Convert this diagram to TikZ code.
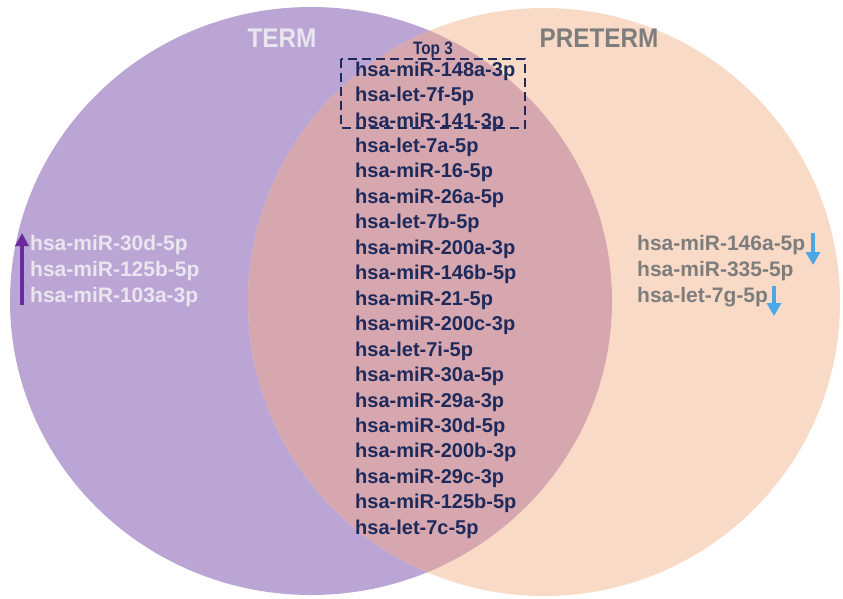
\documentclass[tikz,border=0pt]{standalone}
\usepackage{fontspec}
\setmainfont{Liberation Sans}
\usetikzlibrary{arrows.meta}
\definecolor{termfill}{HTML}{BBA5D4}
\definecolor{pretermfill}{HTML}{F9DAC6}
\definecolor{lensfill}{HTML}{D6A7AF}
\definecolor{navy}{HTML}{1E2A5C}
\definecolor{lightgrey}{HTML}{EAE6EF}
\definecolor{midgrey}{HTML}{7D7D7D}
\definecolor{arrowpurple}{HTML}{6A2A9C}
\definecolor{arrowblue}{HTML}{4AA8E6}
\tikzset{
  title/.style={inner sep=0pt, font=\fontsize{27}{27}\selectfont\bfseries},
  shared/.style={anchor=west, inner sep=0pt, text=navy, font=\fontsize{20}{20}\selectfont\bfseries},
  termtxt/.style={anchor=west, inner sep=0pt, text=lightgrey, font=\fontsize{21}{21}\selectfont\bfseries},
  pretermtxt/.style={anchor=west, inner sep=0pt, text=midgrey, font=\fontsize{21}{21}\selectfont\bfseries},
  topbox/.style={draw=navy, line width=1.8pt, dash pattern=on 9pt off 5pt},
  uparrow/.style={draw=arrowpurple, line width=3.5pt, -{Triangle[width=13pt,length=13pt]}},
  downarrow/.style={draw=arrowblue, line width=4pt, -{Triangle[width=14pt,length=13pt]}}
}
\begin{document}
\begin{tikzpicture}[x=1pt,y=-1pt]
\useasboundingbox (0,0) rectangle (843,598);
% circles
\fill[termfill] (311,301) ellipse [x radius=301pt, y radius=294pt];
\fill[pretermfill] (544,302) ellipse [x radius=296pt, y radius=294pt];
\begin{scope}
  \clip (311,301) ellipse [x radius=301pt, y radius=294pt];
  \fill[lensfill] (544,302) ellipse [x radius=296pt, y radius=294pt];
\end{scope}
% titles
\node[title, text=lightgrey] (term) at (282,38) {\scalebox{0.9}[1]{TERM}};
\node[title, text=midgrey] (preterm) at (599,38) {\scalebox{0.9}[1]{PRETERM}};
% top 3 box
\node[inner sep=0pt, text=navy, font=\fontsize{18}{18}\selectfont\bfseries] (top3) at (433,50) {\scalebox{0.85}[1]{Top 3}};
\draw[topbox] (341,59) rectangle (525,128);
% shared list
\foreach \i/\t in {1/hsa-miR-148a-3p, 2/hsa-let-7f-5p, 3/hsa-miR-141-3p, 4/hsa-let-7a-5p,
  5/hsa-miR-16-5p, 6/hsa-miR-26a-5p, 7/hsa-let-7b-5p, 8/hsa-miR-200a-3p, 9/hsa-miR-146b-5p,
  10/hsa-miR-21-5p, 11/hsa-miR-200c-3p, 12/hsa-let-7i-5p, 13/hsa-miR-30a-5p, 14/hsa-miR-29a-3p,
  15/hsa-miR-30d-5p, 16/hsa-miR-200b-3p, 17/hsa-miR-29c-3p, 18/hsa-miR-125b-5p, 19/hsa-let-7c-5p}
  \node[shared] (c\i) at (355,{71+(\i-1)*25.45}) {\t};
% term only
\node[termtxt] (t1) at (30,245) {hsa-miR-30d-5p};
\node[termtxt] (t2) at (30,271) {hsa-miR-125b-5p};
\node[termtxt] (t3) at (30,297) {hsa-miR-103a-3p};
% preterm only
\node[pretermtxt] (p1) at (637,245) {hsa-miR-146a-5p};
\node[pretermtxt] (p2) at (637,271) {hsa-miR-335-5p};
\node[pretermtxt] (p3) at (637,297) {hsa-let-7g-5p};
% arrows
\coordinate (ua) at (22,305);
\coordinate (ub) at (22,233);
\draw[uparrow] (ua) -- (ub);
\coordinate (d1a) at (813,233);
\coordinate (d1b) at (813,265);
\draw[downarrow] (d1a) -- (d1b);
\coordinate (d2a) at (774,286);
\coordinate (d2b) at (774,316);
\draw[downarrow] (d2a) -- (d2b);
\end{tikzpicture}
\end{document}
